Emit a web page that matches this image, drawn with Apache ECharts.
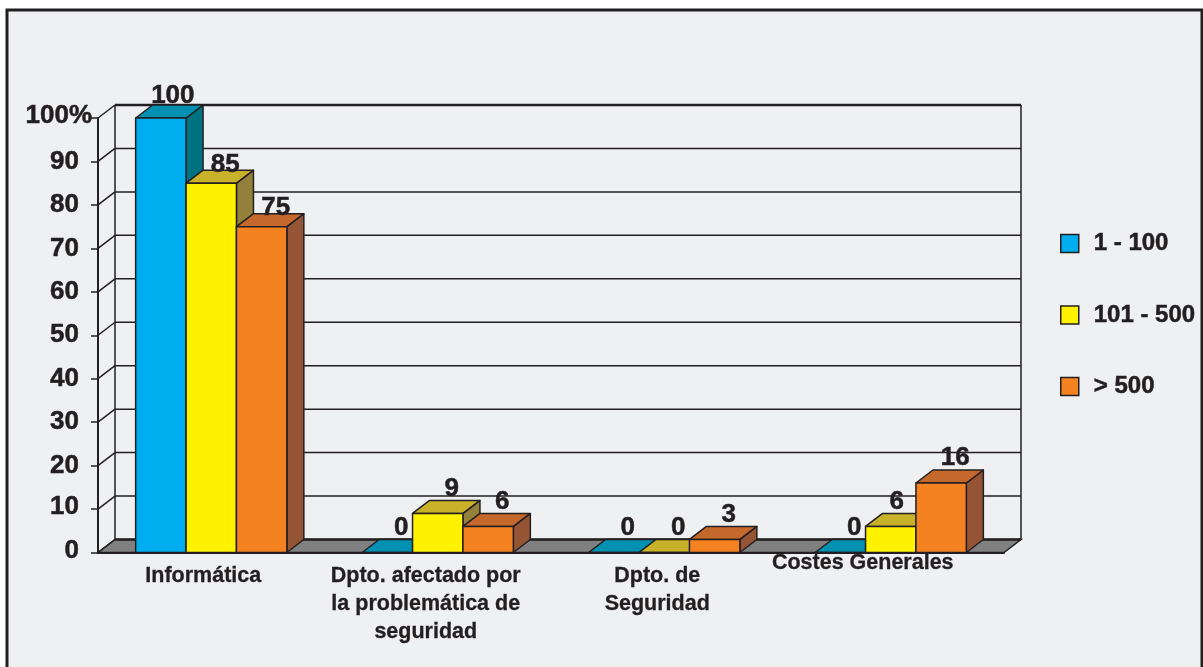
<!DOCTYPE html>
<html>
<head>
<meta charset="utf-8">
<title>Grafico</title>
<script src="https://cdn.jsdelivr.net/npm/echarts@6/dist/echarts.min.js"></script>
<style>
  html, body { margin: 0; padding: 0; background: #fff; }
  #chart { width: 1203px; height: 667px; }
</style>
</head>
<body>
<div id="chart"></div>
<script>
const categories = ['Informática', 'Dpto. afectado por\nla problemática de\nseguridad', 'Dpto. de\nSeguridad', 'Costes Generales'];
const seriesNames = ['1 - 100', '101 - 500', '> 500'];
const valores1 = [100, 0, 0, 0];
const valores2 = [85, 9, 0, 6];
const valores3 = [75, 6, 3, 16];
const ticks = [0, 10, 20, 30, 40, 50, 60, 70, 80, 90, 100];

// caras de cada barra: frente, arriba, lado
const caras = [
    ['#00aeef', '#0090b2', '#00727f'],
    ['#fff200', '#c8b22a', '#94803b'],
    ['#f58220', '#c4682b', '#955535']
];
const tinta = '#231f20';
const fuente = '"Liberation Sans", Arial, sans-serif';
const DX = 17, DY = -13;
const anchoBarra = 0.2225;
const grueso = 0.5; // el texto del original es algo mas pesado

// desplazamiento de las etiquetas de categoria, como en el original
const despCat = [
    { x: 8, y: 13 }, { x: 12, y: 13 }, { x: 7, y: 13 }, { x: 28, y: 0 }
];
// ajustes de etiquetas de valor: serie-categoria
const ajusteValor = { '0-0': [-2, 3], '1-0': [0, 7], '2-0': [0, 6], '1-3': [-8, 0] };

function serieBarra(valores, s) {
    const c = caras[s];
    return {
        name: seriesNames[s],
        type: 'custom',
        itemStyle: { color: c[0] },
        clip: false,
        data: valores.map((v, i) => [i, v]),
        encode: { x: 0, y: 1 },
        renderItem: function (params, api) {
            const cat = api.value(0), val = api.value(1);
            const banda = api.size([1, 0])[0];
            const w = banda * anchoBarra;
            const xc = api.coord([cat, 0])[0] + (s - 1) * w;
            const y0 = api.coord([cat, 0])[1];
            const y1 = api.coord([cat, val])[1];
            const xa = xc - w / 2, xb = xc + w / 2;
            const borde = { stroke: tinta, lineWidth: 1.5, lineJoin: 'round' };
            const aj = ajusteValor[s + '-' + cat] || [0, 0];
            const children = [
                { type: 'polygon', shape: { points: [[xb, y0], [xb + DX, y0 + DY], [xb + DX, y1 + DY], [xb, y1]] }, style: Object.assign({ fill: c[2] }, borde) },
                { type: 'polygon', shape: { points: [[xa, y1], [xa + DX, y1 + DY], [xb + DX, y1 + DY], [xb, y1]] }, style: Object.assign({ fill: c[1] }, borde) },
                { type: 'rect', shape: { x: xa, y: y1, width: w, height: y0 - y1 }, style: Object.assign({ fill: c[0] }, borde) },
                {
                    type: 'text', z2: 50,
                    style: {
                        x: xc + 14 + aj[0], y: y1 + DY - 12 + aj[1],
                        text: String(val), fill: tinta, stroke: tinta, lineWidth: grueso,
                        font: 'bold 26px ' + fuente, align: 'center', verticalAlign: 'middle'
                    }
                }
            ];
            return { type: 'group', children: children };
        }
    };
}

const serieParedes = {
    type: 'custom',
    clip: false,
    silent: true,
    data: ticks.map(t => [0, t]),
    encode: { x: 0, y: 1 },
    renderItem: function (params, api) {
        const cs = params.coordSys;
        const v = api.value(1);
        const y = api.coord([0, v])[1];
        const x0 = cs.x, x1 = cs.x + cs.width;
        const linea = { stroke: tinta, lineWidth: 1.5 };
        const lineaFuerte = { stroke: tinta, lineWidth: (v === 0 || v === 100) ? 2.5 : 1.5 };
        const children = [
            { type: 'line', shape: { x1: x0, y1: y, x2: x0 + DX, y2: y + DY }, style: linea }
        ];
        if (v === 0) {
            children.unshift({
                type: 'polygon',
                shape: { points: [[x0, y], [x0 + DX, y + DY], [x1 + DX, y + DY], [x1, y]] },
                style: { fill: '#808080', stroke: tinta, lineWidth: 1.5 }
            });
            const arriba = api.coord([0, 100])[1] + DY;
            children.push(
                { type: 'line', shape: { x1: x0 + DX, y1: y + DY, x2: x0 + DX, y2: arriba }, style: linea },
                { type: 'line', shape: { x1: x1 + DX, y1: y + DY, x2: x1 + DX, y2: arriba }, style: linea }
            );
        }
        children.push({ type: 'line', shape: { x1: x0 + DX, y1: y + DY, x2: x1 + DX, y2: y + DY }, style: lineaFuerte });
        return { type: 'group', children: children };
    }
};

const myChart = echarts.init(document.getElementById('chart'));

const option = {
    animation: false,
    backgroundColor: '#ffffff',
    graphic: [{
        type: 'rect', z: -10, silent: true,
        shape: { x: 7, y: 10, width: 1195, height: 700 },
        style: { fill: '#eff0f2', stroke: tinta, lineWidth: 3 }
    }],
    grid: { left: 98, top: 118, width: 906, height: 434.5 },
    legend: {
        orient: 'vertical',
        left: 1055, top: 225,
        icon: 'rect',
        itemWidth: 18, itemHeight: 18, itemGap: 44.5,
        selectedMode: false,
        data: seriesNames,
        itemStyle: { borderColor: tinta, borderWidth: 1.5 },
        textStyle: {
            color: tinta, fontFamily: fuente, fontWeight: 'bold', fontSize: 24,
            padding: [0, 0, 0, 10], lineHeight: 27,
            textBorderColor: tinta, textBorderWidth: grueso
        }
    },
    xAxis: {
        type: 'category',
        data: categories.map((c, i) => ({
            value: c,
            textStyle: { padding: [despCat[i].y, despCat[i].x * 2, 0, 0] }
        })),
        axisLine: { lineStyle: { color: tinta, width: 2 } },
        axisTick: { length: 9, lineStyle: { color: tinta, width: 1.5 } },
        axisLabel: {
            interval: 0, margin: -3, color: tinta, fontFamily: fuente,
            fontWeight: 'bold', fontSize: 21.5, lineHeight: 28,
            textBorderColor: tinta, textBorderWidth: 0.3
        },
        splitLine: { show: false }
    },
    yAxis: {
        type: 'value',
        min: 0, max: 100, interval: 10,
        axisLine: { show: true, lineStyle: { color: tinta, width: 2 } },
        axisTick: { show: true, length: 7, lineStyle: { color: tinta, width: 1.5 } },
        splitLine: { show: false },
        axisLabel: {
            margin: 6,
            formatter: function (v) {
                if (v === 100) return '{t|100%}';
                if (v <= 10) return '{b|' + v + '}';
                return '{n|' + v + '}';
            },
            rich: {
                t: { color: tinta, fontFamily: fuente, fontWeight: 'bold', fontSize: 26, padding: [0, 0, 4, 0], textBorderColor: tinta, textBorderWidth: grueso },
                n: { color: tinta, fontFamily: fuente, fontWeight: 'bold', fontSize: 26, padding: [0, 13, 0, 0], textBorderColor: tinta, textBorderWidth: grueso },
                b: { color: tinta, fontFamily: fuente, fontWeight: 'bold', fontSize: 26, padding: [0, 13, 4, 0], textBorderColor: tinta, textBorderWidth: grueso }
            }
        }
    },
    series: [
        serieParedes,
        serieBarra(valores1, 0),
        serieBarra(valores2, 1),
        serieBarra(valores3, 2)
    ]
};

myChart.setOption(option);
</script>
</body>
</html>
